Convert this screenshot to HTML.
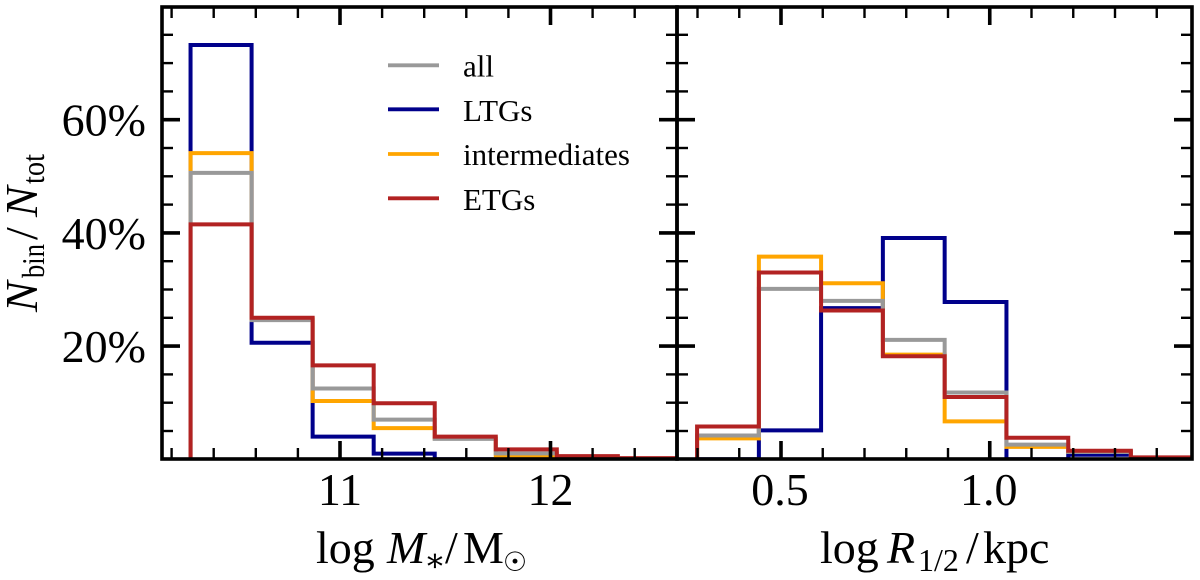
<!DOCTYPE html>
<html>
<head>
<meta charset="utf-8">
<style>
html,body{margin:0;padding:0;background:#fff;}
svg{display:block;}
text{font-family:"Liberation Serif","DejaVu Serif",serif;fill:#000;}
</style>
</head>
<body>
<svg id="chart" xmlns="http://www.w3.org/2000/svg" width="1200" height="580" viewBox="0 0 1200 580">
  <defs>
    <clipPath id="clip-left"><rect x="162" y="7" width="515" height="452"/></clipPath>
    <clipPath id="clip-right"><rect x="677" y="7" width="515" height="452"/></clipPath>
  </defs>
  <g id="left-hist" clip-path="url(#clip-left)"></g>
  <g id="right-hist" clip-path="url(#clip-right)"></g>
  <g id="ticks"></g>
  <g id="tick-labels"></g>
  <rect x="162" y="7" width="515" height="452" fill="none" stroke="#000" stroke-width="3.6"/>
  <rect x="677" y="7" width="515" height="452" fill="none" stroke="#000" stroke-width="3.6"/>

  <g transform="translate(37,313) rotate(-90)">
    <text x="1" y="0" font-size="46" font-style="italic">N</text>
    <text x="35" y="7" font-size="32" textLength="34" lengthAdjust="spacingAndGlyphs">bin</text>
    <text x="73" y="0" font-size="46">/</text>
    <text x="96" y="0" font-size="46" font-style="italic">N</text>
    <text x="129" y="7" font-size="32" textLength="30" lengthAdjust="spacingAndGlyphs">tot</text>
  </g>
  <text y="563" font-size="46"><tspan x="316">log</tspan><tspan x="387" font-style="italic">M</tspan><tspan x="424" font-size="32" dy="8">∗</tspan><tspan x="445" dy="-8">/</tspan><tspan x="463">M</tspan><tspan x="503" font-size="27" dy="8" font-family="DejaVu Sans">☉</tspan></text>
  <text y="563" font-size="46"><tspan x="820">log</tspan><tspan x="887" font-style="italic">R</tspan><tspan x="918" font-size="32" dy="8">1/2</tspan><tspan x="966" dy="-8">/</tspan><tspan x="983">kpc</tspan></text>

  <g>
    <line x1="388" x2="439" y1="65.3" y2="65.3" stroke="#999999" stroke-width="3.8"/>
    <text x="463" y="76.5" font-size="31">all</text>
    <line x1="388" x2="439" y1="109.3" y2="109.3" stroke="#00008b" stroke-width="3.8"/>
    <text x="463" y="121" font-size="31">LTGs</text>
    <line x1="388" x2="439" y1="154" y2="154" stroke="#ffa500" stroke-width="3.8"/>
    <text x="463" y="165" font-size="31">intermediates</text>
    <line x1="388" x2="439" y1="198.3" y2="198.3" stroke="#b22222" stroke-width="3.8"/>
    <text x="463" y="210" font-size="31">ETGs</text>
  </g>
</svg>
<script>
// Bin edges
const massEdges = [10.29, 10.58, 10.87, 11.16, 11.45, 11.74, 12.03, 12.32, 12.61];
const radiusEdges = [0.299, 0.447, 0.596, 0.744, 0.892, 1.04, 1.188, 1.338, 1.484];

// Percent per bin: stellar mass panel
const massLTG = [73.2, 20.6, 4.0, 1.0, 0, 0, 0, 0];
const massAll = [50.6, 24.6, 12.5, 7.0, 3.6, 1.05, 0.3, 0.1];
const massInt = [54.1, 24.8, 10.3, 5.5, 3.7, 0.5, 0.2, 0.1];
const massETG = [41.5, 25.0, 16.6, 9.9, 4.0, 1.75, 0.55, 0.2];

// Percent per bin: half-light radius panel
const radiusLTG = [0, 5.1, 26.7, 39.1, 27.8, 0, 0.8, 0];
const radiusAll = [4.2, 30.1, 28.0, 21.1, 11.8, 2.6, 1.3, 0.2];
const radiusInt = [3.7, 35.8, 31.1, 18.5, 6.7, 2.2, 1.3, 0.2];
const radiusETG = [5.8, 33.0, 26.3, 18.2, 11.0, 3.8, 1.5, 0.35];

// Ticks
const yMajorTicks = [20, 40, 60];
const yMinorTicks = [5, 10, 15, 25, 30, 35, 45, 50, 55, 65, 70, 75];
const massMajorTicks = [11, 12];
const massMinorTicks = [10.2, 10.4, 10.6, 10.8, 11.2, 11.4, 11.6, 11.8, 12.2, 12.4];
const radiusMajorTicks = [0.5, 1.0];
const radiusMinorTicks = [0.3, 0.4, 0.6, 0.7, 0.8, 0.9, 1.1, 1.2, 1.3, 1.4];

const NS = 'http://www.w3.org/2000/svg';
const yScale = v => 459.3 - 5.66 * v;
const xMass = v => 340 + 210.5 * (v - 11);
const xRadius = v => 781 + 417.5 * (v - 0.5);

function stepPath(edges, vals, xf) {
  let d = 'M' + xf(edges[0]) + ' ' + yScale(0);
  vals.forEach((v, i) => {
    d += ' L' + xf(edges[i]) + ' ' + yScale(v) + ' L' + xf(edges[i + 1]) + ' ' + yScale(v);
  });
  d += ' L' + xf(edges[edges.length - 1]) + ' ' + yScale(0);
  return d;
}

function drawHist(groupId, edges, vals, xf, color, name) {
  const p = document.createElementNS(NS, 'path');
  p.setAttribute('d', stepPath(edges, vals, xf));
  p.setAttribute('fill', 'none');
  p.setAttribute('stroke', color);
  p.setAttribute('stroke-width', '4');
  p.setAttribute('stroke-linejoin', 'miter');
  
  
  document.getElementById(groupId).appendChild(p);
}

drawHist('left-hist', massEdges, massLTG, xMass, '#00008b', 'mass-series-ltgs');
drawHist('left-hist', massEdges, massInt, xMass, '#ffa500', 'mass-series-intermediates');
drawHist('left-hist', massEdges, massAll, xMass, '#999999', 'mass-series-all');
drawHist('left-hist', massEdges, massETG, xMass, '#b22222', 'mass-series-etgs');
drawHist('right-hist', radiusEdges, radiusLTG, xRadius, '#00008b', 'radius-series-ltgs');
drawHist('right-hist', radiusEdges, radiusInt, xRadius, '#ffa500', 'radius-series-intermediates');
drawHist('right-hist', radiusEdges, radiusAll, xRadius, '#999999', 'radius-series-all');
drawHist('right-hist', radiusEdges, radiusETG, xRadius, '#b22222', 'radius-series-etgs');

function tick(x1, y1, x2, y2, w) {
  const l = document.createElementNS(NS, 'line');
  l.setAttribute('x1', x1);
  l.setAttribute('y1', y1);
  l.setAttribute('x2', x2);
  l.setAttribute('y2', y2);
  l.setAttribute('stroke', '#000');
  l.setAttribute('stroke-width', w);
  
  
  document.getElementById('ticks').appendChild(l);
}

const MAJ = 18, MIN = 11, WMAJ = 3.6, WMIN = 2.4;
[[162, 677], [677, 1192]].forEach(([l, r]) => {
  yMajorTicks.forEach(v => {
    tick(l, yScale(v), l + MAJ, yScale(v), WMAJ);
    tick(r, yScale(v), r - MAJ, yScale(v), WMAJ);
  });
  yMinorTicks.forEach(v => {
    tick(l, yScale(v), l + MIN, yScale(v), WMIN);
    tick(r, yScale(v), r - MIN, yScale(v), WMIN);
  });
});
[[massMajorTicks, massMinorTicks, xMass], [radiusMajorTicks, radiusMinorTicks, xRadius]].forEach(([maj, min, xf]) => {
  maj.forEach(v => {
    tick(xf(v), 7, xf(v), 7 + MAJ, WMAJ);
    tick(xf(v), 459, xf(v), 459 - MAJ, WMAJ);
  });
  min.forEach(v => {
    tick(xf(v), 7, xf(v), 7 + MIN, WMIN);
    tick(xf(v), 459, xf(v), 459 - MIN, WMIN);
  });
});

function label(x, y, str, anchor) {
  const t = document.createElementNS(NS, 'text');
  t.setAttribute('x', x);
  t.setAttribute('y', y);
  t.setAttribute('font-size', '46');
  t.setAttribute('text-anchor', anchor);
  
  
  t.textContent = str;
  document.getElementById('tick-labels').appendChild(t);
}
yMajorTicks.forEach(v => label(146, yScale(v) + 16, v + '%', 'end'));
massMajorTicks.forEach(v => label(xMass(v), 505, String(v), 'middle'));
radiusMajorTicks.forEach(v => label(xRadius(v) - 1, 505, v.toFixed(1), 'middle'));
</script>
</body>
</html>
